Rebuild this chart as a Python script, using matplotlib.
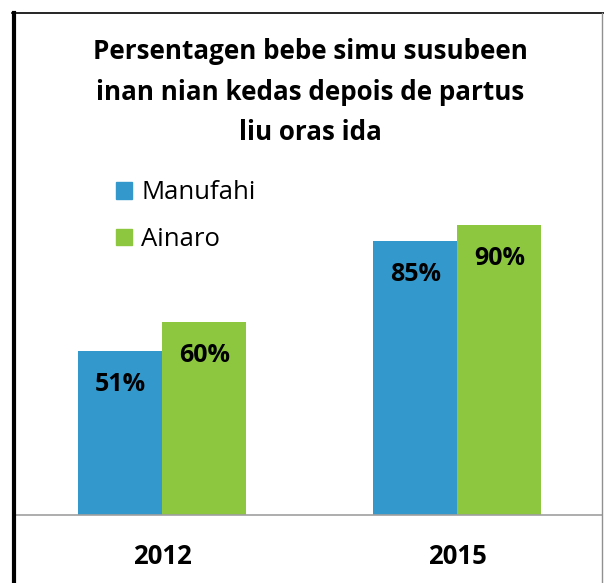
import matplotlib
matplotlib.use("Agg")
import matplotlib.pyplot as plt
from matplotlib.lines import Line2D
from matplotlib.patches import Patch

# Data
years = ["2012", "2015"]
manufahi = [51, 85]
ainaro = [60, 90]
series_names = ["Manufahi", "Ainaro"]
title = "Persentagen bebe simu susubeen\ninan nian kedas depois de partus\nliu oras ida"

blue = "#3399cc"
green = "#8dc63f"

W, H = 604, 583
fig = plt.figure(figsize=(W / 100, H / 100), dpi=100)
plt.rcParams["font.family"] = ["Open Sans", "DejaVu Sans"]

ax = fig.add_axes([16 / W, (H - 515) / H, (602 - 16) / W, (515 - 13) / H])
x = list(range(len(years)))
w = 0.285
b1 = ax.bar([i - w / 2 for i in x], manufahi, w, color=blue, label=series_names[0])
b2 = ax.bar([i + w / 2 for i in x], ainaro, w, color=green, label=series_names[1])

for bars, vals in ((b1, manufahi), (b2, ainaro)):
    for r, v in zip(bars, vals):
        ax.annotate(f"{v}%", (r.get_x() + r.get_width() / 2, v), xytext=(0, -34),
                    textcoords="offset pixels", ha="center", va="center",
                    fontsize=18, fontweight="bold")

ax.set_xlim(-0.495, 1.49)
ax.set_ylim(0, 155.7)
ax.set_xticks(x)
ax.set_xticklabels(years, fontsize=18.5, fontweight="bold")
ax.tick_params(axis="x", length=0, pad=20)
ax.set_yticks([])
for s in ["left", "right", "top"]:
    ax.spines[s].set_visible(False)
ax.spines["bottom"].set_color("#a0a0a0")
ax.spines["bottom"].set_linewidth(1.2)

fig.text(310 / W, 1 - 92 / H, title, ha="center", va="center", fontsize=18.7,
         fontweight="bold", linespacing=1.62)

handles = [Patch(color=blue), Patch(color=green)]
leg = fig.legend(handles, series_names, loc="upper left", bbox_to_anchor=(106 / W, 1 - 170 / H),
                 frameon=False, fontsize=18.5, handlelength=0.62, handleheight=0.62,
                 handletextpad=0.35, labelspacing=0.85, borderaxespad=0)

# border lines
fig.add_artist(Line2D([14 / W, 14 / W], [0, 1 - 13 / H], color="black", lw=3))
fig.add_artist(Line2D([12 / W, 1], [1 - 13 / H, 1 - 13 / H], color="black", lw=1.2))
fig.add_artist(Line2D([602 / W, 602 / W], [0, 1 - 13 / H], color="#909090", lw=1))

fig.savefig("out.png", dpi=100)
